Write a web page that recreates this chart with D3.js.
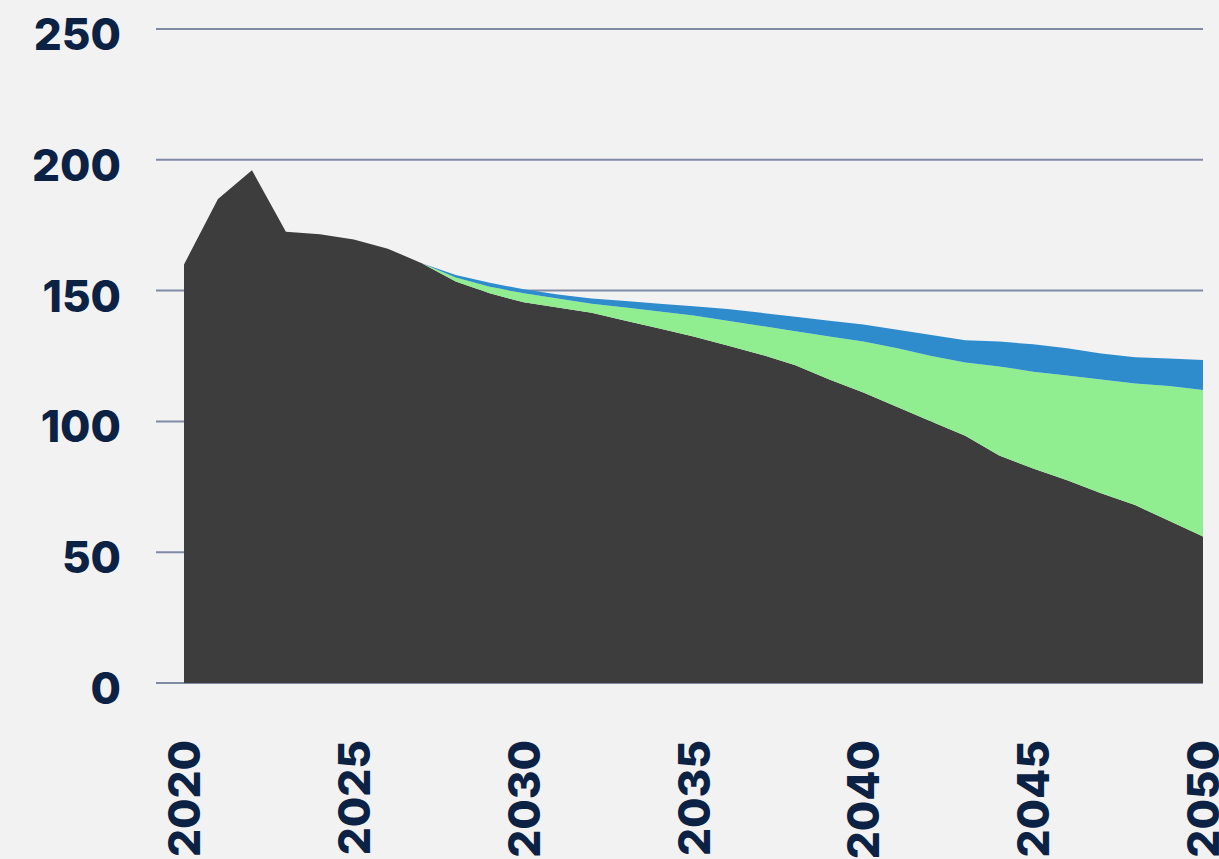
<!DOCTYPE html>
<html>
<head>
<meta charset="utf-8">
<script src="https://cdn.jsdelivr.net/npm/d3@7"></script>
<style>
  html, body { margin: 0; padding: 0; background: #f2f2f2; }
  svg { display: block; }
  .tick-label { font-family: Inter, "DejaVu Sans", sans-serif; font-weight: 800; fill: #0b2244; }
</style>
</head>
<body>
<div id="wrapper"></div>
<script>
// data
const years = d3.range(2020, 2051)

const darkValues = [160, 185, 196, 172.5, 171.5, 169.5, 166, 160.5, 153.5, 149,
    145.5, 143.5, 141.5, 138.5, 135.5, 132.5, 129, 125.5, 121.5, 116,
    111, 105.5, 100, 94.5, 87, 82, 77.5, 72.5, 68, 62, 56]

const greenValues = [0, 0, 0, 0, 0, 0, 0, 0, 1.5, 2.5,
    3.5, 3.5, 3.5, 5, 6.5, 8, 9.5, 11, 13, 16.5,
    19.5, 22.5, 25, 28, 34, 37, 40, 43.5, 46.5, 51.5, 56]

const blueValues = [0, 0, 0, 0, 0, 0, 0, 0, 1, 1.5,
    1.5, 1.5, 2, 2.5, 3, 3.5, 4.5, 5, 5.5, 6,
    6.5, 7, 8, 8.5, 9.5, 10.5, 10.5, 10, 10, 10.5, 11.5]

const seriesKeys = ["dark", "green", "blue"]
const seriesColors = ["#3d3d3d", "#90ee90", "#2e8bcc"]

const yTicks = [0, 50, 100, 150, 200, 250]
const xTicks = [2020, 2025, 2030, 2035, 2040, 2045, 2050]

const rows = years.map((y, i) => ({
    year: y,
    dark: darkValues[i],
    green: greenValues[i],
    blue: blueValues[i],
}))

// chart setup
let dimensions = {
    width: 1219,
    height: 859,
    margin: { top: 29, right: 16, bottom: 176, left: 184 },
}
dimensions.boundedWidth = dimensions.width - dimensions.margin.left - dimensions.margin.right
dimensions.boundedHeight = dimensions.height - dimensions.margin.top - dimensions.margin.bottom

const svg = d3.select("#wrapper")
    .append("svg")
        .attr("width", dimensions.width)
        .attr("height", dimensions.height)

svg.append("rect")
    .attr("width", dimensions.width)
    .attr("height", dimensions.height)
    .attr("fill", "#f2f2f2")

const bounds = svg.append("g")
    .attr("transform", `translate(${dimensions.margin.left},${dimensions.margin.top})`)

const xScale = d3.scaleLinear()
    .domain([2020, 2050])
    .range([0, dimensions.boundedWidth])

const yScale = d3.scaleLinear()
    .domain([0, 250])
    .range([dimensions.boundedHeight, 0])

// gridlines
bounds.append("g")
    .selectAll("line")
    .data(yTicks)
    .join("line")
        .attr("x1", -28)
        .attr("x2", dimensions.boundedWidth)
        .attr("y1", d => yScale(d))
        .attr("y2", d => yScale(d))
        .attr("stroke", "#7f8ba3")
        .attr("stroke-width", 2)

// stacked areas
const stack = d3.stack().keys(seriesKeys)
const stacked = stack(rows)

const area = d3.area()
    .x(d => xScale(d.data.year))
    .y0(d => yScale(d[0]))
    .y1(d => yScale(d[1]))

bounds.append("g")
    .selectAll("path")
    .data(stacked)
    .join("path")
        .attr("d", area)
        .attr("fill", (d, i) => seriesColors[i])

// y labels
bounds.append("g")
    .selectAll("text")
    .data(yTicks)
    .join("text")
        .attr("class", "tick-label")
        .attr("x", -63)
        .attr("y", d => yScale(d) + 9)
        .attr("text-anchor", "end")
        .attr("dominant-baseline", "middle")
        .attr("font-size", 44)
        .text(d => d)

// x labels, rotated
bounds.append("g")
    .selectAll("text")
    .data(xTicks)
    .join("text")
        .attr("class", "tick-label")
        .attr("transform", d => `translate(${xScale(d) + 4},${dimensions.boundedHeight + 57}) rotate(-90)`)
        .attr("text-anchor", "end")
        .attr("dominant-baseline", "middle")
        .attr("font-size", 44)
        .text(d => d)
</script>
</body>
</html>
